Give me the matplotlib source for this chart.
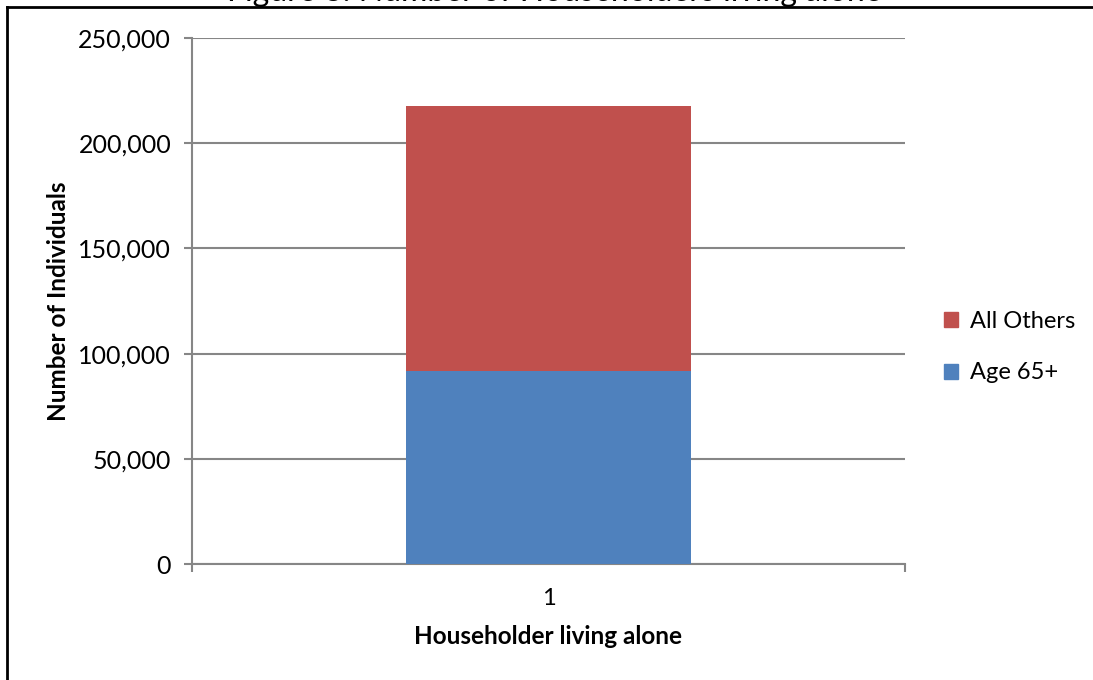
import matplotlib
matplotlib.use("Agg")
import matplotlib.pyplot as plt
from matplotlib.lines import Line2D
from matplotlib.patches import Patch
from matplotlib.ticker import FuncFormatter

plt.rcParams['font.family'] = ['Lato', 'DejaVu Sans']

categories = ["1"]
age65 = [91700]
all_others = [126000]
series_names = ["Age 65+", "All Others"]
colors = ["#4F81BD", "#C0504D"]
title = "Figure 8: Number of Householders living alone"

W, H = 1093, 680
fig = plt.figure(figsize=(W/100, H/100), dpi=100)
ax = fig.add_axes([192/W, 1-564/H, (905-192)/W, (564-38)/H])

x = [1]
ax.bar(x, age65, width=0.4, color=colors[0], zorder=3)
ax.bar(x, all_others, width=0.4, bottom=age65, color=colors[1], zorder=3)

ax.set_xlim(0.5, 1.5)
ax.set_ylim(0, 250000)
ax.set_yticks(range(0, 250001, 50000))
ax.yaxis.set_major_formatter(FuncFormatter(lambda v, p: f"{int(v):,}"))
ax.set_xticks(x)
ax.set_xticklabels(categories)
ax.set_xticks([0.5, 1.5], minor=True)
ax.tick_params(axis='x', which='major', length=0, pad=17, labelsize=17)
ax.tick_params(axis='x', which='minor', length=6, width=1.5, color='#868686')
ax.tick_params(axis='y', length=6, width=1.5, color='#868686', labelsize=18, pad=9)
ax.yaxis.grid(True, color='#868686', linewidth=1.5, zorder=0)
for s in ['top', 'right']:
    ax.spines[s].set_visible(False)
for s in ['left', 'bottom']:
    ax.spines[s].set_color('#868686')
    ax.spines[s].set_linewidth(1.5)

ax.set_ylabel("Number of Individuals", fontsize=17.5, fontweight='bold', labelpad=6)
ax.set_xlabel("Householder living alone", fontsize=17.5, fontweight='bold', labelpad=12)

handles = [Patch(color=colors[1], label=series_names[1]),
           Patch(color=colors[0], label=series_names[0])]
leg = fig.legend(handles=handles, loc='center left', bbox_to_anchor=(923/W, 1-347/H),
                 frameon=False, fontsize=17, handlelength=0.6, handleheight=0.6,
                 handletextpad=0.5, labelspacing=1.3)

fig.text(554/W, 1-1/H, title, ha='center', va='baseline', fontsize=23)
fig.add_artist(Line2D([7/W, 7/W], [0, 1-7/H], color='black', lw=2, transform=fig.transFigure))
fig.add_artist(Line2D([7/W, 1], [1-7/H, 1-7/H], color='black', lw=2, transform=fig.transFigure))

fig.savefig("out.png", dpi=100)
